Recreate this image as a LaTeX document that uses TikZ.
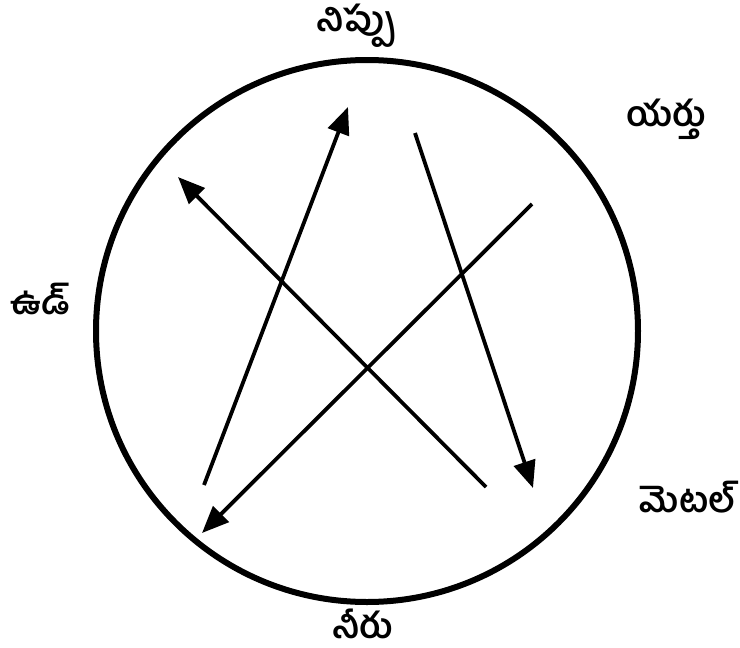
\documentclass[tikz,border=0pt]{standalone}
\usepackage{fontspec}
\newfontfamily\telugu[Script=Telugu]{Hind Guntur}
\usetikzlibrary{arrows.meta}
\begin{document}
\begin{tikzpicture}[x=1pt,y=-1pt,
  lbl/.style={font=\telugu\bfseries\fontsize{35}{40}\selectfont, inner sep=0pt},
  flow/.style={line width=3.8pt, -{Triangle[length=27pt,width=22pt]}}]
\useasboundingbox (0,0) rectangle (740,648);
\node[draw, line width=6pt, circle, minimum size=542pt, inner sep=0pt] (ring) at (367,331) {};
\coordinate (a1) at (204,485); \coordinate (b1) at (348,107);
\coordinate (a2) at (486,487); \coordinate (b2) at (178,177);
\coordinate (a3) at (415,133); \coordinate (b3) at (533,488);
\coordinate (a4) at (532,204); \coordinate (b4) at (202,533);
\draw[flow] (a1) -- (b1);
\draw[flow] (a2) -- (b2);
\draw[flow] (a3) -- (b3);
\draw[flow] (a4) -- (b4);
\node[lbl] (fire) at (356,26) {నిప్పు};
\node[lbl] (earth) at (666,119) {యర్తు};
\node[lbl] (wood) at (40,299) {ఉడ్};
\node[lbl] (metal) at (688,497) {మెటల్};
\node[lbl] (water) at (363,624) {నీరు};
\end{tikzpicture}
\end{document}
